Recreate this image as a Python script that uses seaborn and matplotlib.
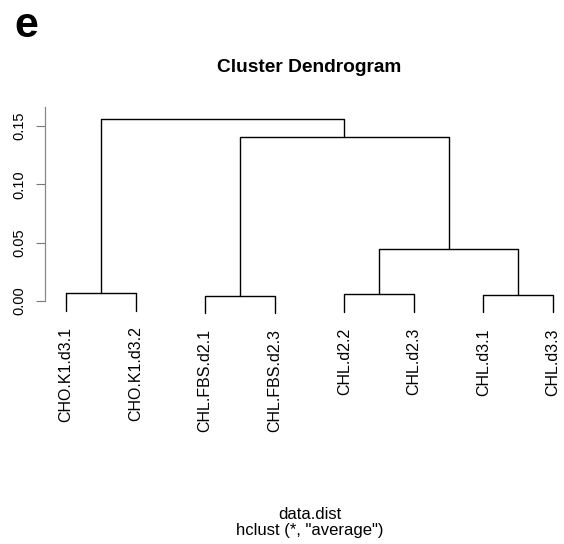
import numpy as np
import pandas as pd
import matplotlib
matplotlib.use("Agg")
import matplotlib.pyplot as plt
import seaborn as sns

# Leaf labels in dendrogram order
leaf_labels = ["CHO.K1.d3.1", "CHO.K1.d3.2", "CHL.FBS.d2.1", "CHL.FBS.d2.3",
               "CHL.d2.2", "CHL.d2.3", "CHL.d3.1", "CHL.d3.3"]

# hclust-style merge table: negative = leaf index (1-based), positive = earlier merge
merge_left = [-1, -3, -5, -7, 3, 2, 1]
merge_right = [-2, -4, -6, -8, 4, 5, 6]
merge_height = [0.0069, 0.0046, 0.0057, 0.0054, 0.0443, 0.1405, 0.1557]

y_ticks = [0.00, 0.05, 0.10, 0.15]
y_tick_labels = ["0.00", "0.05", "0.10", "0.15"]

sns.set_style("white")
plt.rcParams["font.family"] = ["Liberation Sans", "DejaVu Sans"]
plt.rcParams["text.color"] = "black"
plt.rcParams["axes.labelcolor"] = "black"
plt.rcParams["ytick.color"] = "black"

W, H, DPI = 564, 544, 100
fig = plt.figure(figsize=(W / DPI, H / DPI), dpi=DPI)

# Axes placed in pixel terms (plot region spills past the right edge)
ax_left, ax_right = 45, 574
ax_top, ax_bottom = 100, 330
ax = fig.add_axes([ax_left / W, 1 - ax_bottom / H,
                   (ax_right - ax_left) / W, (ax_bottom - ax_top) / H])

# Hang leaves below their parent by a tenth of the height range
hang = 0.1 * (max(merge_height) - min(merge_height))

# Build segments of the dendrogram from the merge table
node_x, node_y = {}, {}
segments = []
leaf_end = {}
for i, (a, b, h) in enumerate(zip(merge_left, merge_right, merge_height), start=1):
    xs, ys = [], []
    for child in (a, b):
        if child < 0:
            cx = float(-child)
            cy = h - hang
            leaf_end[-child] = cy
        else:
            cx, cy = node_x[child], node_y[child]
        xs.append(cx)
        ys.append(cy)
    segments.append([(xs[0], ys[0]), (xs[0], h), (xs[1], h), (xs[1], ys[1])])
    node_x[i] = (xs[0] + xs[1]) / 2
    node_y[i] = h

rows = []
for sid, seg in enumerate(segments):
    for order, (x, y) in enumerate(seg):
        rows.append({"seg": sid, "order": order, "x": x, "y": y})
df = pd.DataFrame(rows)

sns.lineplot(data=df, x="x", y="y", units="seg", estimator=None, sort=False,
             color="black", linewidth=1.0, ax=ax, legend=False)

# Leaf labels, rotated, hanging below each leaf
for k, lab in enumerate(leaf_labels, start=1):
    ax.annotate(lab, xy=(k, leaf_end[k]), xytext=(0, -11.5), textcoords="offset points",
                rotation=90, ha="center", va="top", fontsize=11.5, color="black")

# Scales
pad = 21 / 69.6
ax.set_xlim(1 - pad, 8 + pad)
px_per_unit = (301 - 126) / 0.15
ax.set_ylim((301 - ax_bottom) / px_per_unit, (301 - ax_top) / px_per_unit)

ax.set_xticks([])
ax.set_xlabel("")
ax.set_ylabel("")
ax.set_yticks(y_ticks)
ax.set_yticklabels(y_tick_labels, rotation=90, va="center", fontsize=10.5)
ax.tick_params(axis="y", left=True, length=6.5, width=0.8, color="#777777",
               pad=7, labelcolor="black")
for s in ("top", "right", "bottom"):
    ax.spines[s].set_visible(False)
ax.spines["left"].set_color("#888888")
ax.spines["left"].set_linewidth(0.9)
ax.spines["left"].set_bounds(0.0, 0.166)

cx = (ax_left + ax_right) / 2 / W
fig.text(cx, 1 - 72 / H, "Cluster Dendrogram", ha="center", va="baseline",
         fontsize=13.8, fontweight="bold", color="black")
fig.text(cx, 1 - 519 / H, "data.dist", ha="center", va="baseline", fontsize=12,
         color="black")
fig.text(cx, 1 - 535 / H, 'hclust (*, "average")', ha="center", va="baseline",
         fontsize=12, color="black")

fig.text(14 / W, 1 - 37 / H, "e", ha="left", va="baseline", fontsize=31,
         fontweight="bold", color="black")

fig.savefig("out.png", dpi=DPI)
